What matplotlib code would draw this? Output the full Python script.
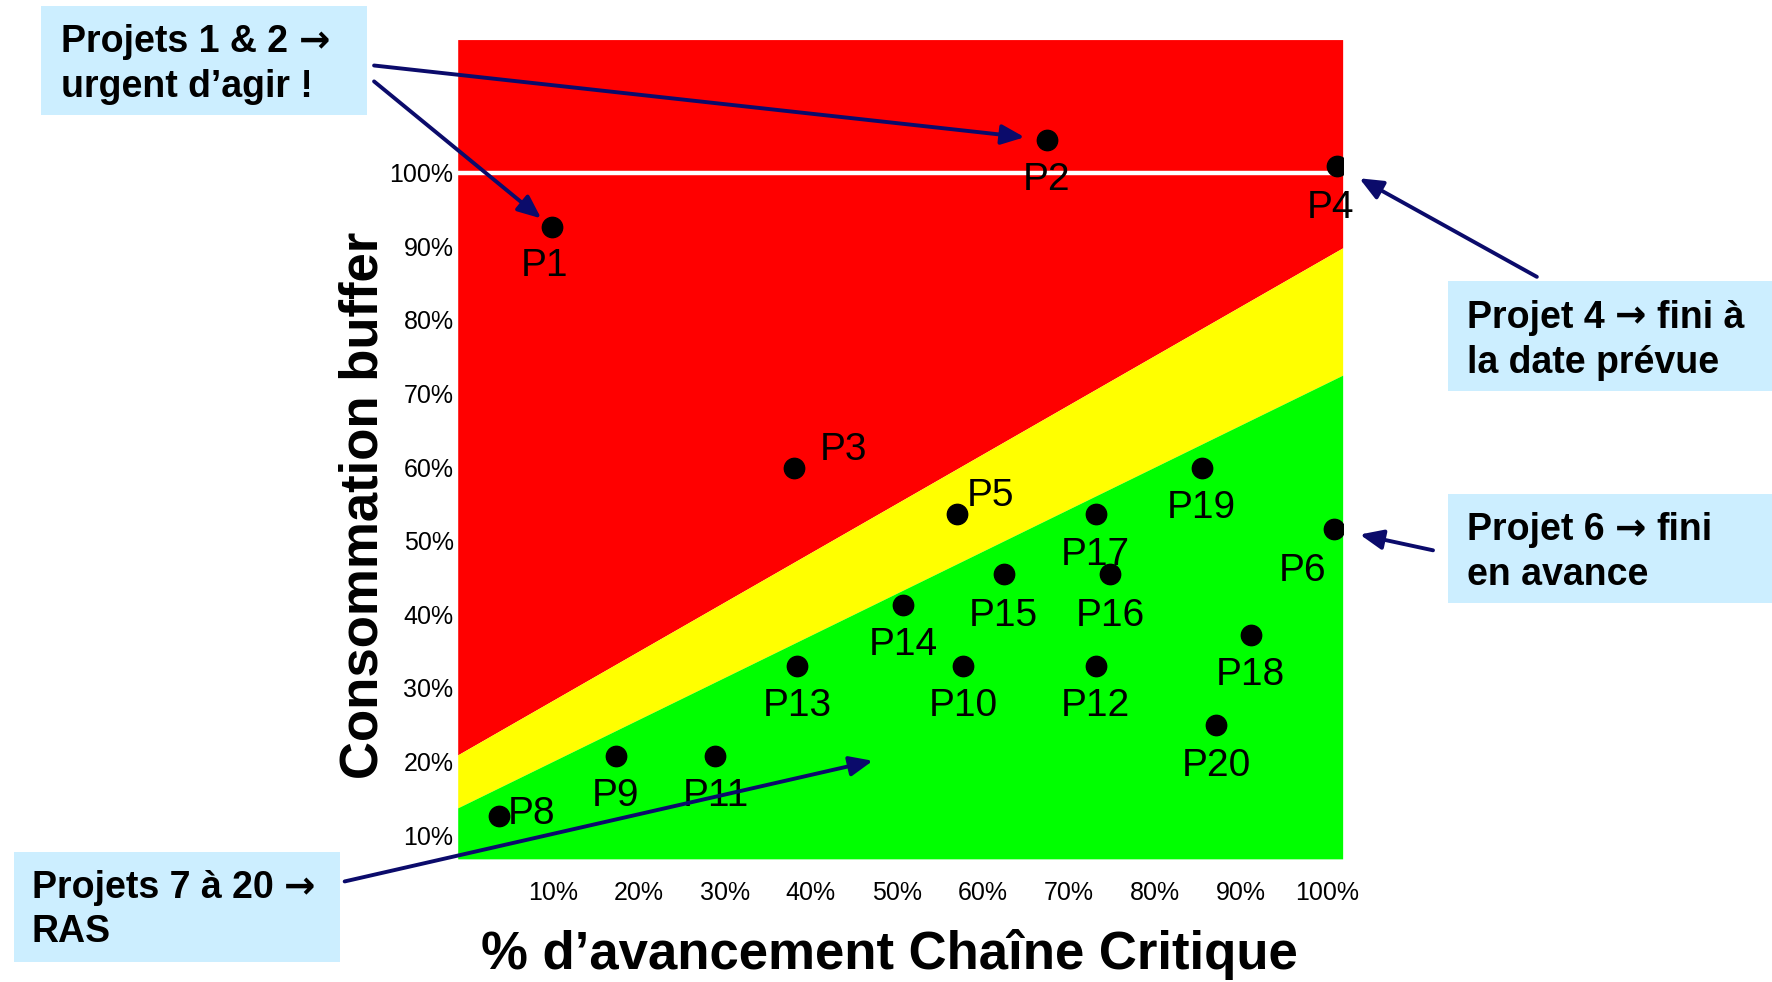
import matplotlib
matplotlib.use("Agg")
import matplotlib.pyplot as plt
from matplotlib.patches import Rectangle

# projets : % avancement chaine critique / % consommation buffer
projects = ["P1", "P2", "P3", "P4", "P5", "P6", "P8", "P9", "P10", "P11",
            "P12", "P13", "P14", "P15", "P16", "P17", "P18", "P19", "P20"]
avancement = [9.9, 67.4, 38.0, 101.2, 57.0, 100.8, 3.7, 17.3, 57.7, 28.9,
              73.1, 38.4, 50.7, 62.4, 74.8, 73.1, 91.1, 85.4, 87.1]
conso_buffer = [92.6, 104.5, 59.9, 100.9, 53.6, 51.6, 12.6, 20.8, 33.0, 20.8,
                33.0, 33.0, 41.3, 45.5, 45.5, 53.6, 37.2, 59.9, 24.9]

# zones (bords gauche / droit du graphique)
zone_x = [-1.05, 101.8]
red_floor = [20.9, 89.8]
green_top = [13.7, 72.5]

ticks = [10, 20, 30, 40, 50, 60, 70, 80, 90, 100]
tick_labels = ["10%", "20%", "30%", "40%", "50%", "60%", "70%", "80%", "90%", "100%"]

callouts = [
    ["Projets 1 & 2 \u2192", "urgent d\u2019agir !"],
    ["Projet 4 \u2192 fini \u00e0", "la date pr\u00e9vue"],
    ["Projet 6 \u2192 fini", "en avance"],
    ["Projets 7 \u00e0 20 \u2192", "RAS"],
]

NARROW = ["Liberation Sans Narrow", "Liberation Sans", "DejaVu Sans"]
NAVY = "#0b0b6b"
BOX = "#cceeff"

fig = plt.figure(figsize=(17.72, 9.82), dpi=100)
ax = fig.add_axes([0.2583, 0.1254, 0.4994, 0.8343])
ymin, ymax = 6.77, 118.1
ax.set_xlim(zone_x[0], zone_x[1])
ax.set_ylim(ymin, ymax)

ax.fill_between(zone_x, red_floor, [ymax, ymax], color="#ff0000", lw=0)
ax.fill_between(zone_x, green_top, red_floor, color="#ffff00", lw=0)
ax.fill_between(zone_x, [ymin, ymin], green_top, color="#00ff00", lw=0)
ax.axhline(100, color="white", lw=3.2)

ax.scatter(avancement, conso_buffer, s=215, color="black", zorder=5)

# decalage des etiquettes (points), par defaut en dessous
offsets = {"P1": (-5, -28), "P3": (36, 13), "P4": (-5, -30), "P5": (24, 13),
           "P6": (-23, -30), "P8": (24, 1.5), "P15": (0, -30), "P16": (0, -30)}
for name, x, y in zip(projects, avancement, conso_buffer):
    dx, dy = offsets.get(name, (0, -29))
    ax.annotate(name, (x, y), xytext=(dx, dy), textcoords="offset points",
                ha="center", va="center", fontsize=28, family=NARROW, zorder=6)

ax.set_xticks(ticks)
ax.set_xticklabels(tick_labels)
ax.set_yticks(ticks)
ax.set_yticklabels(tick_labels)
ax.tick_params(length=0, labelsize=18)
ax.tick_params(axis="x", pad=16)
ax.tick_params(axis="y", pad=3)
for lab in ax.get_xticklabels() + ax.get_yticklabels():
    lab.set_family(NARROW)
for s in ax.spines.values():
    s.set_visible(False)

fig.text(0.2054, 0.4856, "Consommation buffer", rotation=90, ha="center", va="center",
         fontsize=38, fontweight="bold", family=NARROW)
fig.text(0.502, 0.0276, "% d\u2019avancement Cha\u00eene Critique", ha="center", va="center",
         fontsize=38, fontweight="bold", family=NARROW)

# encadres : (coin bas gauche, x du texte, lignes de base)
box_layout = [
    ((0.0230, 0.8826), 0.0344, (0.9471, 0.9010)),
    ((0.8170, 0.6018), 0.8278, (0.6663, 0.6203)),
    ((0.8170, 0.3855), 0.8278, (0.4499, 0.4039)),
    ((0.0077, 0.0207), 0.0179, (0.0852, 0.0403)),
]
renderer = fig.canvas.get_renderer()
inv = fig.transFigure.inverted()
gap = 10.5 / fig.bbox.width


def draw_line(x, y, line):
    # la fleche est dessinee en DejaVu Sans (plus grande)
    pieces = line.split("\u2192")
    for k, piece in enumerate(pieces):
        piece = piece.strip()
        if piece:
            t = fig.text(x, y, piece, ha="left", va="baseline", fontsize=27,
                         fontweight="bold", family=NARROW, zorder=2)
            x = inv.transform((t.get_window_extent(renderer).x1, 0))[0] + gap
        if k < len(pieces) - 1:
            t = fig.text(x, y, "\u2192", ha="left", va="baseline", fontsize=27,
                         fontweight="bold", family="DejaVu Sans", zorder=2)
            x = inv.transform((t.get_window_extent(renderer).x1, 0))[0] + gap


for ((bx, by), tx, bases), lines in zip(box_layout, callouts):
    fig.patches.append(Rectangle((bx, by), 0.184, 0.1116, transform=fig.transFigure,
                                 facecolor=BOX, edgecolor="none", zorder=1))
    for yb, line in zip(bases, lines):
        draw_line(tx, yb, line)

arrow = dict(arrowstyle="-|>,head_length=0.7,head_width=0.3", lw=2.8, color=NAVY,
             mutation_scale=20, shrinkA=0)
idx = {n: i for i, n in enumerate(projects)}
for name, tail, shrink in [("P2", (0.2111, 0.9333), 16), ("P1", (0.2111, 0.9171), 10),
                           ("P4", (0.8673, 0.7181), 18), ("P6", (0.8087, 0.4396), 19)]:
    i = idx[name]
    ax.annotate("", xy=(avancement[i], conso_buffer[i]), xycoords="data",
                xytext=tail, textcoords="figure fraction",
                arrowprops=dict(arrow, shrinkB=shrink), annotation_clip=False, zorder=7)
ax.annotate("", xy=(47.2, 20.1), xycoords="data", xytext=(0.1945, 0.1024),
            textcoords="figure fraction", arrowprops=dict(arrow, shrinkB=0),
            annotation_clip=False, zorder=7)

fig.savefig("out.png", dpi=100)
